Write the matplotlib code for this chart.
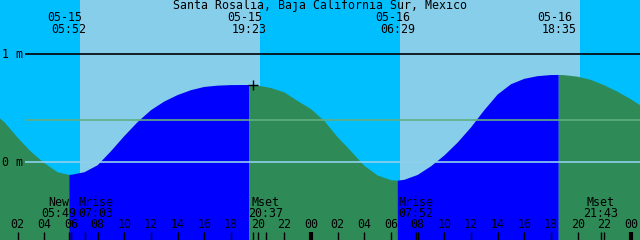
import matplotlib
matplotlib.use("Agg")
from matplotlib import pyplot as plt
import numpy as np

title = "Santa Rosalia, Baja California Sur, Mexico"

# water level (m), hours counted from 05-15 00:00
times = [0, 1, 2, 3, 4, 5, 5.867, 6, 7, 8, 9, 10, 11, 12, 13, 14, 15, 16, 17, 18, 19, 19.383,
         20, 21, 22, 23, 24, 25, 26, 27, 28, 29, 30, 30.483, 31, 32, 33, 34, 35, 36, 37, 38,
         39, 40, 41, 42, 42.583, 43, 44, 45, 46, 47, 48, 49]
levels = [0.47, 0.37, 0.225, 0.095, -0.01, -0.095, -0.12, -0.119, -0.095, -0.03, 0.10, 0.24,
          0.37, 0.48, 0.56, 0.62, 0.665, 0.695, 0.707, 0.712, 0.713, 0.713,
          0.708, 0.685, 0.645, 0.565, 0.49, 0.38, 0.23, 0.10, -0.035, -0.125, -0.168, -0.173,
          -0.165, -0.12, -0.04, 0.06, 0.18, 0.32, 0.48, 0.625,
          0.72, 0.77, 0.795, 0.805, 0.806, 0.804, 0.79, 0.76, 0.71, 0.65, 0.58, 0.50]

# tide extremes (top labels)
ext_dates = ['05-15', '05-15', '05-16', '05-16']
ext_clock = ['05:52', '19:23', '06:29', '18:35']
ext_day = [0, 0, 1, 1]

# moon events (bottom labels)
moon_names = ['New', 'Mrise', 'Mset', 'Mrise', 'Mset']
moon_clock = ['05:49', '07:03', '20:37', '07:52', '21:43']
moon_day = [0, 0, 0, 1, 1]
moon_shift = [-10, 11, 0, 0, 0]   # px, labels pushed apart

# daylight
sunrise = ['06:41', '06:41']
sunset = ['20:11', '20:11']
sun_day = [0, 1]

now_clock, now_day = '19:41', 0
mean_level = 0.39

def hrs(clock, day):
    h, m = clock.split(':')
    return 24 * day + int(h) + int(m) / 60

t0 = 0.675          # left edge (h)
pxh = 640 / 48      # px per hour
t = np.array(times)
lv = np.array(levels)
ext_t = [hrs(c, d) for c, d in zip(ext_clock, ext_day)]

fig = plt.figure(figsize=(6.4, 2.4), dpi=100)
ax = fig.add_axes([0, 0, 1, 1])
ax.set_xlim(t0, t0 + 48)
ax.set_ylim((162 - 240) / 108, 162 / 108)
ax.axis('off')
xt = ax.get_xaxis_transform()
font = dict(family='DejaVu Sans Mono', fontsize=8.4, color='k')

# sky
ax.axvspan(t0, t0 + 48, color='#00bfff', lw=0, zorder=0)
for r, s, d in zip(sunrise, sunset, sun_day):
    ax.axvspan(hrs(r, d), hrs(s, d), color='#87ceeb', lw=0, zorder=1)

# water: rising = blue, falling = green
rising = np.zeros(len(t), bool)
for lo, hi in [(ext_t[0], ext_t[1]), (ext_t[2], ext_t[3])]:
    rising |= (t >= lo - 1e-3) & (t <= hi + 1e-3)
falling = ~rising
for e in ext_t:
    falling |= np.isclose(t, e, atol=1e-3)
bottom = -1
ax.fill_between(t, bottom, lv, where=rising, color='#0000ff', lw=0, zorder=2)
ax.fill_between(t, bottom, lv, where=falling, color='#2e8b57', lw=0, zorder=2)

# reference lines
xs = t0 + 25 / pxh
ax.hlines(1, xs, t0 + 48, color='k', lw=1.2, zorder=3)
ax.hlines(mean_level, xs, t0 + 48, color='#5fae80', lw=1.2, zorder=3)
ax.hlines(0, xs, t0 + 48, color='#8fd0ec', lw=1.2, zorder=3)
ax.text(t0 + 2 / pxh, 1, '1 m', ha='left', va='center', **font)
ax.text(t0 + 2 / pxh, 0, '0 m', ha='left', va='center', **font)

# now marker
now_t = hrs(now_clock, now_day)
ax.plot([now_t], [np.interp(now_t, t, lv)], marker='+', color='k', ms=7, mew=1, zorder=4)

# title and tide extremes
ax.text(t0 + 24, 1 - 6 / 240, title, ha='center', va='center', transform=xt, **font)
for et, dt, ck in zip(ext_t, ext_dates, ext_clock):
    ax.text(et - 4.5 / pxh, 1 - 17.5 / 240, dt, ha='center', va='center', transform=xt, **font)
    ax.text(et, 1 - 29.5 / 240, ck, ha='center', va='center', transform=xt, **font)

# moon events
moon_t = [hrs(c, d) for c, d in zip(moon_clock, moon_day)]
for mt, nm, ck, sh in zip(moon_t, moon_names, moon_clock, moon_shift):
    ax.text(mt + sh / pxh, 1 - 202.5 / 240, nm, ha='center', va='center', transform=xt, **font)
    ax.text(mt + sh / pxh, 1 - 213.5 / 240, ck, ha='center', va='center', transform=xt, **font)

# hour axis
hours = np.arange(2, 49, 2)
for h in hours:
    ax.text(h, 1 - 225 / 240, '%02d' % (h % 24), ha='center', va='center', transform=xt, **font)
    ax.vlines(h, 0, 8 / 240, color='k', lw=3 if h % 24 == 0 else 1, transform=xt, zorder=5)
for mt in moon_t + [now_t]:
    ax.vlines(mt, 0, 8 / 240, color='k', lw=1, transform=xt, zorder=5)

fig.savefig('out.png', dpi=100)
